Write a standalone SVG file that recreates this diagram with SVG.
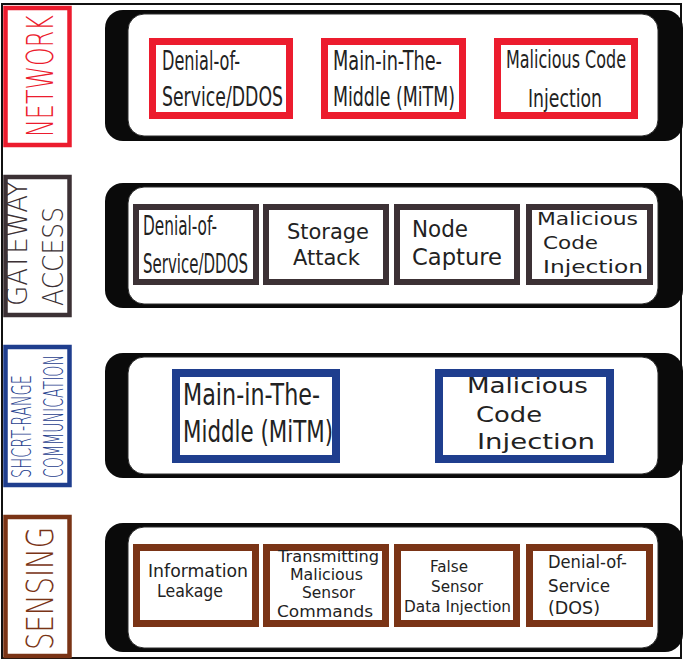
<svg xmlns="http://www.w3.org/2000/svg" width="685" height="661" viewBox="0 0 685 661">
<style>
.band-o{fill:#0a0a0a}
.band-i{fill:#fff;stroke:#2a2a2a;stroke-width:1}
.lab{fill:#fff;stroke-width:4.5}
.lt{font-family:"DejaVu Sans","Liberation Sans",sans-serif;font-weight:300}
.t{font-family:"DejaVu Sans","Liberation Sans",sans-serif;fill:#222}
.red{stroke:#ec1c2e;fill:#fff;stroke-width:7}
.gry{stroke:#3c3135;fill:#fff;stroke-width:6}
.blu{stroke:#1f3e8e;fill:#fff;stroke-width:8}
.brn{stroke:#7a3416;fill:#fff;stroke-width:7}
</style>
<rect x="0" y="0" width="685" height="661" fill="#fff"/>
<rect x="2" y="4" width="679" height="654" fill="none" stroke="#111" stroke-width="2"/>

<g id="bands">
<rect class="band-o" x="105" y="10" width="578" height="131" rx="18"/>
<rect class="band-i" x="128" y="14" width="530" height="122" rx="16"/>
<rect class="band-o" x="105" y="183" width="578" height="125" rx="18"/>
<rect class="band-i" x="128" y="187" width="530" height="117" rx="16"/>
<rect class="band-o" x="105" y="353" width="578" height="125" rx="18"/>
<rect class="band-i" x="128" y="357" width="530" height="117" rx="16"/>
<rect class="band-o" x="105" y="523" width="578" height="129" rx="18"/>
<rect class="band-i" x="128" y="527" width="530" height="121" rx="16"/>
</g>

<g id="label-network">
<rect class="lab" x="5.5" y="8" width="64" height="137" stroke="#ec1c2e"/>
<text class="lt" fill="#ec1c2e" font-size="37" text-anchor="middle" transform="translate(53,76) rotate(-90)" textLength="122" lengthAdjust="spacingAndGlyphs">NETWORK</text>
</g>
<g id="label-gateway">
<rect class="lab" x="5.5" y="177" width="64" height="138" stroke="#3c3135"/>
<text class="lt" fill="#3c3135" font-size="28" transform="translate(27,306) rotate(-90)" textLength="125" lengthAdjust="spacingAndGlyphs">GATEWAY</text>
<text class="lt" fill="#3c3135" font-size="28" transform="translate(63,306) rotate(-90)" textLength="99" lengthAdjust="spacingAndGlyphs">ACCESS</text>
</g>
<g id="label-short">
<rect class="lab" x="5.5" y="347" width="64" height="138" stroke="#1f3e8e"/>
<text class="lt" fill="#1f3e8e" font-size="26" transform="translate(31,478) rotate(-90)" textLength="103" lengthAdjust="spacingAndGlyphs">SHCRT-RANGE</text>
<text class="lt" fill="#1f3e8e" font-size="26" transform="translate(63,478) rotate(-90)" textLength="123" lengthAdjust="spacingAndGlyphs">COMMUNICATION</text>
</g>
<g id="label-sensing">
<rect class="lab" x="5.5" y="517" width="64" height="139" stroke="#7a3416"/>
<text class="lt" fill="#7a3416" font-size="38" text-anchor="middle" transform="translate(53,588.5) rotate(-90)" textLength="123" lengthAdjust="spacingAndGlyphs">SENSING</text>
</g>

<g id="net-dos">
<rect class="red" x="152.5" y="41.5" width="137" height="74"/>
<text class="t" font-size="26" x="162" y="70" textLength="78" lengthAdjust="spacingAndGlyphs">Denial-of-</text>
<text class="t" font-size="26" x="162" y="106" textLength="121" lengthAdjust="spacingAndGlyphs">Service/DDOS</text>
</g>
<g id="net-mitm">
<rect class="red" x="324.5" y="41.5" width="138" height="74"/>
<text class="t" font-size="26" x="333" y="70" textLength="109" lengthAdjust="spacingAndGlyphs">Main-in-The-</text>
<text class="t" font-size="26" x="333" y="106" textLength="122" lengthAdjust="spacingAndGlyphs">Middle (MiTM)</text>
</g>
<g id="net-mci">
<rect class="red" x="497.5" y="41.5" width="137" height="74"/>
<text class="t" font-size="25" x="506" y="68" textLength="120" lengthAdjust="spacingAndGlyphs">Malicious Code</text>
<text class="t" font-size="25" x="528" y="107" textLength="74" lengthAdjust="spacingAndGlyphs">Injection</text>
</g>

<g id="gw-dos">
<rect class="gry" x="136" y="207" width="120" height="75"/>
<text class="t" font-size="26" x="143" y="235" textLength="74" lengthAdjust="spacingAndGlyphs">Denial-of-</text>
<text class="t" font-size="26" x="143" y="273" textLength="105" lengthAdjust="spacingAndGlyphs">Service/DDOS</text>
</g>
<g id="gw-storage">
<rect class="gry" x="266" y="207" width="120" height="75"/>
<text class="t" font-size="21" x="287" y="239" textLength="82" lengthAdjust="spacingAndGlyphs">Storage</text>
<text class="t" font-size="21" x="293" y="265" textLength="67" lengthAdjust="spacingAndGlyphs">Attack</text>
</g>
<g id="gw-node">
<rect class="gry" x="397" y="207" width="120" height="75"/>
<text class="t" font-size="23" x="412" y="237" textLength="56" lengthAdjust="spacingAndGlyphs">Node</text>
<text class="t" font-size="23" x="412" y="265" textLength="90" lengthAdjust="spacingAndGlyphs">Capture</text>
</g>
<g id="gw-mci">
<rect class="gry" x="529" y="207" width="121" height="75"/>
<text class="t" font-size="18" x="537" y="225" textLength="101" lengthAdjust="spacingAndGlyphs">Malicious</text>
<text class="t" font-size="18" x="543" y="249" textLength="55" lengthAdjust="spacingAndGlyphs">Code</text>
<text class="t" font-size="18" x="543" y="273" textLength="100" lengthAdjust="spacingAndGlyphs">Injection</text>
</g>

<g id="sr-mitm">
<rect class="blu" x="176" y="373" width="160" height="86"/>
<text class="t" font-size="30" x="183" y="405" textLength="137" lengthAdjust="spacingAndGlyphs">Main-in-The-</text>
<text class="t" font-size="30" x="183" y="442" textLength="150" lengthAdjust="spacingAndGlyphs">Middle (MiTM)</text>
</g>
<g id="sr-mci">
<rect class="blu" x="439" y="373" width="171" height="86"/>
<text class="t" font-size="21" x="467" y="393" textLength="121" lengthAdjust="spacingAndGlyphs">Malicious</text>
<text class="t" font-size="21" x="476" y="422" textLength="66" lengthAdjust="spacingAndGlyphs">Code</text>
<text class="t" font-size="21" x="477" y="449" textLength="118" lengthAdjust="spacingAndGlyphs">Injection</text>
</g>

<g id="sn-leak">
<rect class="brn" x="136.5" y="547.5" width="119" height="76"/>
<text class="t" font-size="17" x="148" y="577" textLength="100" lengthAdjust="spacingAndGlyphs">Information</text>
<text class="t" font-size="17" x="157" y="597" textLength="66" lengthAdjust="spacingAndGlyphs">Leakage</text>
</g>
<g id="sn-tmsc">
<rect class="brn" x="266.5" y="547.5" width="119" height="76"/>
<text class="t" font-size="16" x="278" y="562" textLength="101" lengthAdjust="spacingAndGlyphs">Transmitting</text>
<text class="t" font-size="16" x="290" y="580" textLength="73" lengthAdjust="spacingAndGlyphs">Malicious</text>
<text class="t" font-size="16" x="302" y="598" textLength="53" lengthAdjust="spacingAndGlyphs">Sensor</text>
<text class="t" font-size="16" x="277" y="617" textLength="96" lengthAdjust="spacingAndGlyphs">Commands</text>
</g>
<g id="sn-fsdi">
<rect class="brn" x="397.5" y="547.5" width="119" height="76"/>
<text class="t" font-size="16" x="430" y="572" textLength="38" lengthAdjust="spacingAndGlyphs">False</text>
<text class="t" font-size="16" x="431" y="592" textLength="52" lengthAdjust="spacingAndGlyphs">Sensor</text>
<text class="t" font-size="16" x="404" y="612" textLength="107" lengthAdjust="spacingAndGlyphs">Data Injection</text>
</g>
<g id="sn-dos">
<rect class="brn" x="529.5" y="547.5" width="120" height="76"/>
<text class="t" font-size="18" x="548" y="568" textLength="79" lengthAdjust="spacingAndGlyphs">Denial-of-</text>
<text class="t" font-size="18" x="548" y="592" textLength="62" lengthAdjust="spacingAndGlyphs">Service</text>
<text class="t" font-size="18" x="548" y="614" textLength="52" lengthAdjust="spacingAndGlyphs">(DOS)</text>
</g>
</svg>
